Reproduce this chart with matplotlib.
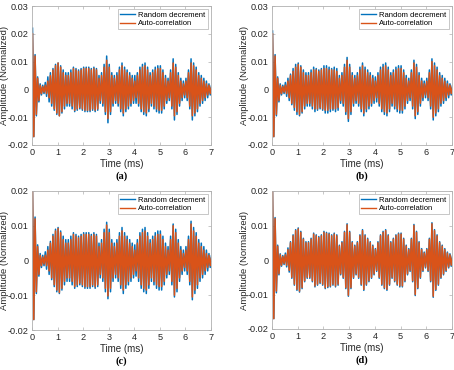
import matplotlib
matplotlib.use("Agg")
import matplotlib.pyplot as plt
import numpy as np

plt.rcParams['font.family'] = ['Liberation Sans', 'DejaVu Sans']

# peak amplitudes (x 1e-3) of each oscillation cycle, one per 0.1 ms
t_cycle = [round(0.02 + 0.1 * k, 2) for k in range(71)]

rd_a = [22, 12.5, 4.5, 2, 1.5, 2.5, 4.5, 6, 7.5, 9,
        9.5, 8.5, 7, 6, 6, 7, 8, 7.5, 7, 7.5,
        8, 8, 8, 7.5, 8, 7.5, 5, 6, 9, 12,
        9, 6, 5, 6, 8, 9.5, 8, 7, 6, 5,
        5, 6, 8, 9, 9.5, 8, 6, 7, 8, 8.5,
        8.5, 7, 5, 4, 7, 11, 9, 6, 4, 3,
        4, 7, 11, 9.5, 8, 6, 5, 4, 3, 2, 1.5]
ac_a = [20, 12, 4, 1.5, 1, 1.5, 3, 5, 7, 8.5,
        9.5, 8, 6, 5, 5, 6, 7.5, 7, 6.5, 7,
        7.5, 7.5, 7.5, 7, 7.5, 7, 4, 5, 8, 10.5,
        8, 5, 4, 5, 7, 8.5, 7, 6, 5, 4,
        3, 5, 7, 8, 8.5, 7, 5, 6, 7, 7.5,
        7.5, 6, 4, 3, 6, 9.5, 8, 5, 3, 2,
        3, 6, 9.5, 8.5, 7, 5, 4, 3, 2, 1.5, 1]

rd_b = [21, 12.5, 4.5, 2, 1.5, 2.5, 4, 5.5, 7.5, 9,
        9.5, 8.5, 7, 6, 6, 7, 8, 7.5, 7, 7.5,
        8.5, 8.5, 8, 7.5, 8, 7.5, 5, 6, 9, 11.5,
        9, 6, 5, 6, 8, 9.5, 8, 7, 6, 5,
        4.5, 6, 8, 9, 9.5, 8, 6, 7, 8, 8.5,
        8.5, 7, 5, 4, 7, 10.5, 9, 6, 4, 3,
        4, 7, 11, 9.5, 8, 6, 5, 4, 3, 2, 1.5]
ac_b = [20, 12, 4, 1.5, 1, 1.5, 3, 5, 6.5, 8,
        9, 8, 6, 5, 5, 6, 7, 7, 6.5, 7,
        7.5, 7.5, 7, 7, 7, 6.5, 4, 5, 8, 10.5,
        8, 5, 4, 5, 7, 8.5, 7, 6, 5, 4,
        3, 5, 7, 8, 8.5, 7, 5, 6, 7, 7.5,
        7.5, 6, 4, 3, 6, 9.5, 8, 5, 3, 2,
        3, 6, 10, 8.5, 7, 5, 4, 3, 2, 1.5, 1]

rd_c = [20, 12.5, 4.5, 2, 1.5, 2.5, 4, 5.5, 7.5, 9,
        9.5, 8.5, 7, 6, 6, 7, 8, 7.5, 7, 7.5,
        8, 8, 8, 7.5, 8, 7.5, 5, 6, 9, 11,
        9, 6, 5, 6, 8, 9.5, 8, 7, 6, 5,
        4.5, 6, 8, 9, 9.5, 8, 6, 7, 8, 8.5,
        8.5, 7, 5, 4, 7, 10.5, 9, 6, 4, 3,
        4, 7, 11.3, 9.5, 8, 6, 5, 4, 3, 2, 1.5]
ac_c = [20, 12, 4, 1.5, 1, 1.5, 3, 5, 7, 8.5,
        9.2, 8, 6, 5, 5, 6, 7.5, 7, 6.5, 7,
        7.5, 7.5, 7.5, 7, 7.5, 7, 4, 5, 8, 10.2,
        8, 5, 4, 5, 7, 8.5, 7, 6, 5, 4,
        3, 5, 7, 8, 8.5, 7, 5, 6, 7, 7.5,
        7.5, 6, 4, 3, 6, 10, 8, 5, 3, 2,
        3, 6, 10.5, 8.5, 7, 5, 4, 3, 2, 1.5, 1]

rd_d = [20, 12.3, 4.3, 1.8, 1.3, 2, 3.5, 5.3, 7.3, 8.8,
        9.3, 8.3, 6.3, 5.3, 5.3, 6.3, 7.8, 7.3, 6.8, 7.3,
        8.3, 8, 7.8, 7.3, 7.8, 7.3, 4.3, 5.3, 8.3, 10.5,
        8.3, 5.3, 4.3, 5.3, 7.3, 8.8, 7.3, 6.3, 5.3, 4.3,
        3.3, 5.3, 7.3, 8.3, 8.8, 7.3, 5.3, 6.3, 7.3, 7.8,
        7.8, 6.3, 4.3, 3.3, 6.3, 10.3, 8.3, 5.3, 3.3, 2.3,
        3.3, 6.3, 10.8, 8.8, 7.3, 5.3, 4.3, 3.3, 2.3, 1.8, 1.3]
ac_d = [20, 12, 4, 1.5, 1, 1.5, 3, 5, 7, 8.5,
        9, 8, 6, 5, 5, 6, 7.5, 7, 6.5, 7,
        8, 7.7, 7.5, 7, 7.5, 7, 4, 5, 8, 10.2,
        8, 5, 4, 5, 7, 8.5, 7, 6, 5, 4,
        3, 5, 7, 8, 8.5, 7, 5, 6, 7, 7.5,
        7.5, 6, 4, 3, 6, 10, 8, 5, 3, 2,
        3, 6, 10.5, 8.5, 7, 5, 4, 3, 2, 1.5, 1]

# first two troughs (x 1e-3) differ from the matching peaks
rd_onset = [17, 9.5]
ac_onset = [17, 9]

yticks_ab = [-0.02, -0.01, 0, 0.01, 0.02, 0.03]
ylabels_ab = ['-0.02', '-0.01', '0', '0.01', '0.02', '0.03']
yticks_cd = [-0.02, -0.01, 0, 0.01, 0.02]
ylabels_cd = ['-0.02', '-0.01', '0', '0.01', '0.02']
xticks = [0, 1, 2, 3, 4, 5, 6, 7]

panels = [
    ('(a)', rd_a, ac_a, (-0.02, 0.03), yticks_ab, ylabels_ab, [32, 6, 211, 145]),
    ('(b)', rd_b, ac_b, (-0.02, 0.03), yticks_ab, ylabels_ab, [272, 6, 452, 145]),
    ('(c)', rd_c, ac_c, (-0.02, 0.02), yticks_cd, ylabels_cd, [32, 191, 211, 330]),
    ('(d)', rd_d, ac_d, (-0.02, 0.02), yticks_cd, ylabels_cd, [272, 191, 452, 329]),
]

BLUE = '#0072BD'
ORANGE = '#D95319'
W, H = 454, 370


def zigzag(peaks, onset):
    t = np.array(t_cycle)
    p = np.array(peaks) * 1e-3
    tr = p.copy()
    tr[:len(onset)] = np.array(onset) * 1e-3
    times = np.empty(2 * len(t))
    vals = np.empty(2 * len(t))
    times[0::2] = t
    times[1::2] = t + 0.05
    vals[0::2] = p
    vals[1::2] = -tr
    return times, vals


fig = plt.figure(figsize=(W / 100, H / 100), dpi=100)

for cap, rd, ac, ylim, yt, yl, (x0, y0, x1, y1) in panels:
    ax = fig.add_axes([x0 / W, 1 - y1 / H, (x1 - x0) / W, (y1 - y0) / H])
    tx, vx = zigzag(rd, rd_onset)
    ax.plot(tx, vx, color=BLUE, lw=1.1, label='Random decrement')
    tx, vx = zigzag(ac, ac_onset)
    ax.plot(tx, vx, color=ORANGE, lw=1.1, label='Auto-correlation')

    ax.set_xlim(0, 7)
    ax.set_ylim(*ylim)
    ax.set_xticks(xticks)
    ax.set_yticks(yt)
    ax.set_yticklabels(yl)
    ax.tick_params(direction='in', length=2, width=0.5, labelsize=6.6,
                   colors='#b0b0b0', labelcolor='#262626',
                   top=True, right=True, pad=2.5)
    for s in ax.spines.values():
        s.set_color('#b0b0b0')
        s.set_linewidth(0.6)
    ax.set_xlabel('Time (ms)', fontsize=7, color='#262626', labelpad=1)
    ax.set_ylabel('Amplitude (Normalized)', fontsize=6.8, color='#262626')
    # right edge of the rotated label ~23 px left of the axes
    ax.yaxis.set_label_coords(-23 / (x1 - x0), 0.5)

    leg = ax.legend(loc='upper right', fontsize=5.5, handlelength=2.0,
                    handletextpad=0.4, borderpad=0.3, labelspacing=0.15,
                    borderaxespad=0.4, fancybox=False, framealpha=1)
    leg.get_frame().set_edgecolor('#b0b0b0')
    leg.get_frame().set_linewidth(0.5)
    for h in leg.get_lines():
        h.set_linewidth(1.0)

    fig.text((x0 + x1) / 2 / W, 1 - (y1 + 31) / H, cap, ha='center', va='center',
             fontsize=7.5, family='Liberation Serif', fontweight='bold')

fig.savefig('out.png', dpi=100)
